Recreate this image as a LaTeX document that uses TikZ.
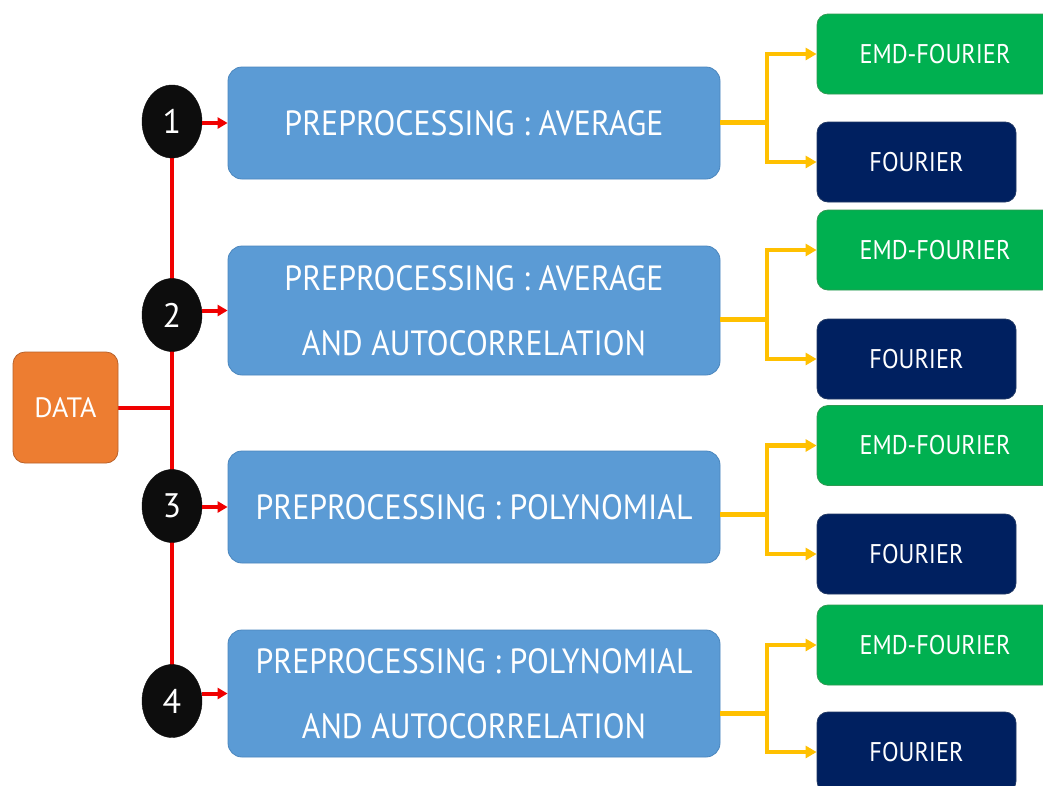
\documentclass[tikz,border=0pt]{standalone}
\usepackage{fontspec}
\setmainfont{PT Sans}
\newfontfamily\narrowfont[FakeStretch=0.9]{PT Sans}
\newfontfamily\prepfont[FakeStretch=0.91]{PT Sans}
\usetikzlibrary{shapes.geometric,arrows.meta,backgrounds}
\definecolor{pblue}{HTML}{5B9BD5}
\definecolor{pblueb}{HTML}{4A86BE}
\definecolor{porange}{HTML}{ED7D31}
\definecolor{porangeb}{HTML}{B8612A}
\definecolor{pgreen}{HTML}{00B050}
\definecolor{pgreenb}{HTML}{2E9A52}
\definecolor{pnavy}{HTML}{002060}
\definecolor{pnavyb}{HTML}{203864}
\definecolor{pyellow}{HTML}{FFC000}
\definecolor{pred}{HTML}{F00000}
\definecolor{pblack}{HTML}{0D0D0D}
\tikzset{
  prep/.style={rectangle, rounded corners=14pt, fill=pblue, draw=pblueb, line width=0.8pt,
    minimum width=492pt, text=white, font=\prepfont\fontsize{35}{65}\selectfont, align=center, inner sep=0pt},
  emd/.style={rectangle, rounded corners=11pt, fill=pgreen, draw=pgreenb, line width=0.8pt,
    minimum width=236pt, minimum height=80pt, text=white, font=\narrowfont\fontsize{27}{30}\selectfont, inner sep=0pt},
  four/.style={rectangle, rounded corners=11pt, fill=pnavy, draw=pnavyb, line width=0.8pt,
    minimum width=199pt, minimum height=80pt, text=white, font=\narrowfont\fontsize{27}{30}\selectfont, inner sep=0pt},
  num/.style={ellipse, fill=pblack, draw=pblack, minimum width=60pt, minimum height=73pt,
    inner sep=0pt, text=white, font=\fontsize{34}{36}\selectfont},
  datab/.style={rectangle, rounded corners=12pt, fill=porange, draw=porangeb, line width=0.8pt,
    minimum width=105pt, minimum height=111pt, text=white, font=\fontsize{28}{30}\selectfont, inner sep=0pt},
  redl/.style={draw=pred, line width=4pt},
  reda/.style={draw=pred, line width=4pt, -{Triangle[length=10pt,width=11pt]}},
  yell/.style={draw=pyellow, line width=5pt},
  yella/.style={draw=pyellow, line width=4.5pt, -{Triangle[length=11pt,width=12pt]}},
}
\begin{document}
\begin{tikzpicture}[x=1pt,y=-1pt]
\useasboundingbox (0,0) rectangle (1043,785);
\clip (0,0) rectangle (1043,785);

% data
\node[datab] (data) at (65.5,407.5) {DATA};

% numbered circles
\node[num] (c1) at (172,121.5) {1};
\node[num] (c2) at (172,315) {2};
\node[num] (c3) at (172,506) {3};
\node[num] (c4) at (172,701) {4};

% preprocessing boxes
\node[prep, minimum height=112pt] (b1) at (474,123) {PREPROCESSING : AVERAGE};
\node[prep, minimum height=129pt] (b2) at (474,310.5) {PREPROCESSING : AVERAGE\\AND AUTOCORRELATION};
\node[prep, minimum height=112pt] (b3) at (474,507) {PREPROCESSING : POLYNOMIAL};
\node[prep, minimum height=127pt] (b4) at (474,693.5) {PREPROCESSING : POLYNOMIAL\\AND AUTOCORRELATION};

% outputs
\node[emd]  (g1) at (935,54)  {EMD-FOURIER};
\node[four] (n1) at (916.5,162) {FOURIER};
\node[emd]  (g2) at (935,250) {EMD-FOURIER};
\node[four] (n2) at (916.5,359) {FOURIER};
\node[emd]  (g3) at (935,445.5) {EMD-FOURIER};
\node[four] (n3) at (916.5,554) {FOURIER};
\node[emd]  (g4) at (935,645) {EMD-FOURIER};
\node[four] (n4) at (916.5,752) {FOURIER};

\begin{scope}[on background layer]
  \fill[white] (0,0) rectangle (1043,785);
  \draw[redl] (c1.center) -- (c4.center);
  \draw[redl] (data.east) -- (c1.center |- data.east);
\end{scope}

% red arrows
\draw[reda] (c1.east |- b1.west) -- (b1.west);
\draw[reda] (c2.east |- b2.west) -- (b2.west);
\draw[reda] (c3.east |- b3.west) -- (b3.west);
\draw[reda] (c4.east |- b4.west) -- (b4.west);

% yellow forks
\coordinate (j1) at (767,122);
\coordinate (j2) at (767,319);
\coordinate (j3) at (767,514);
\coordinate (j4) at (767,713);
\foreach \i in {1,2,3,4}{
  \draw[yell] (b\i.east |- j\i) -- (j\i);
  \draw[yella] (j\i) |- (g\i.west);
  \draw[yella] (j\i) |- (n\i.west);
}
\end{tikzpicture}
\end{document}
